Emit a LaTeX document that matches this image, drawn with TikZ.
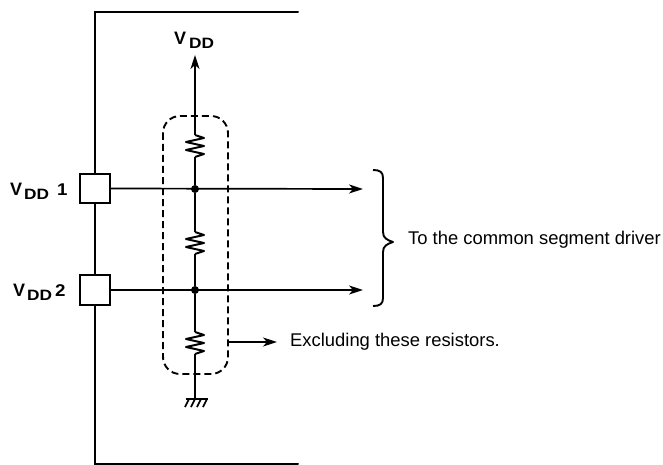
\documentclass[tikz,border=0pt]{standalone}
\usepackage{fontspec}
\setmainfont{Liberation Sans}
\usetikzlibrary{arrows.meta,calc}
\newcommand{\vddlabel}[2]{\bfseries\fontsize{18}{18}\selectfont V\hspace{#1}\raisebox{-3.5pt}{\fontsize{15}{15}\selectfont\scalebox{1.15}[1]{DD}}#2}
\newcommand{\vddnum}[1]{{\fontsize{17}{17}\selectfont\scalebox{1.1}[1]{#1}}}
\tikzset{
  frameline/.style={line width=2pt,line cap=round},
  wire/.style={line width=1.7pt},
  sig/.style={wire,-{Stealth[length=14pt,width=9pt,inset=4pt]}},
  padbox/.style={draw,line width=2pt,fill=white,minimum width=30pt,minimum height=29.5pt,inner sep=0pt},
  junction/.style={circle,fill=black,minimum size=8pt,inner sep=0pt},
  txt/.style={inner sep=0pt,font=\fontsize{18.4}{20}\selectfont,anchor=west},
  vddtxt/.style={inner sep=0pt,anchor=base west},
  resist/.pic={\draw[line width=2pt,line join=round] (0,-11) -- (9,-8) -- (-9,-4) -- (9,0) -- (-9,4) -- (9,8) -- (0,11);}
}
\begin{document}
\begin{tikzpicture}[x=1pt,y=-1pt]
\useasboundingbox (0,0) rectangle (663,465);
\coordinate (ftr) at (298,12);
\coordinate (ftl) at (95,12);
\coordinate (fbl) at (95,464);
\coordinate (fbr) at (298,464);
\node[padbox] (p1) at (95,188.5) {};
\node[padbox] (p2) at (95,290) {};
\draw[frameline] (ftr) -- (ftl) -- (p1.north);
\draw[frameline] (p1.south) -- (p2.north);
\draw[frameline] (p2.south) -- (fbl) -- (fbr);
% dashed enclosure
\draw[line width=1.9pt,dash pattern=on 7pt off 4pt,rounded corners=17pt] (163,116) rectangle (228,374);
% wires
\node[junction] (j1) at (195,189) {};
\node[junction] (j2) at (195,290) {};
\coordinate (top) at (195,55);
\coordinate (gnd) at (195,399);
\coordinate (a1) at (363,189);
\coordinate (a2) at (363,290);
\coordinate (r1) at (195,146);
\coordinate (r2) at (195,243);
\coordinate (r3) at (195,343);
\draw[sig] ($(r1)+(0,-11)$) -- (top);
\pic at (r1) {resist};
\draw[wire] ($(r1)+(0,11)$) -- (j1);
\draw[wire] (j1) -- ($(r2)+(0,-11)$);
\pic at (r2) {resist};
\draw[wire] ($(r2)+(0,11)$) -- (j2);
\draw[wire] (j2) -- ($(r3)+(0,-11)$);
\pic at (r3) {resist};
\draw[wire] ($(r3)+(0,11)$) -- (gnd);
\draw[sig] (p1.east) -- (a1);
\draw[sig] (p2.east) -- (a2);
% ground
\draw[wire] (186,399) -- (208,399);
\foreach \x in {189,195,201,207} \draw[wire] (\x,399) -- (\x-4,407);
% brace
\draw[line width=1.9pt,line join=round] (373,170) .. controls (380,170) and (383,172) .. (383,178)
  -- (383,232) .. controls (383,238) and (387,240) .. (393,242)
  .. controls (387,244) and (383,246) .. (383,252)
  -- (383,298) .. controls (383,304) and (380,306) .. (373,306);
% excluding arrow
\coordinate (e0) at (228,342);
\coordinate (e1) at (277,342);
\draw[sig] (e0) -- (e1);
% labels
\node[txt] (t1) at (408,240) {To the common segment driver};
\node[txt] (t2) at (290,342) {Excluding these resistors.};
\node[vddtxt] (v0) at (174,45) {\vddlabel{3pt}{}};
\node[vddtxt] (v1) at (10,195.5) {\vddlabel{2pt}{\hspace{8pt}\vddnum{1}}};
\node[vddtxt] (v2) at (13,296.5) {\vddlabel{2pt}{\hspace{3pt}\vddnum{2}}};
\end{tikzpicture}
\end{document}
